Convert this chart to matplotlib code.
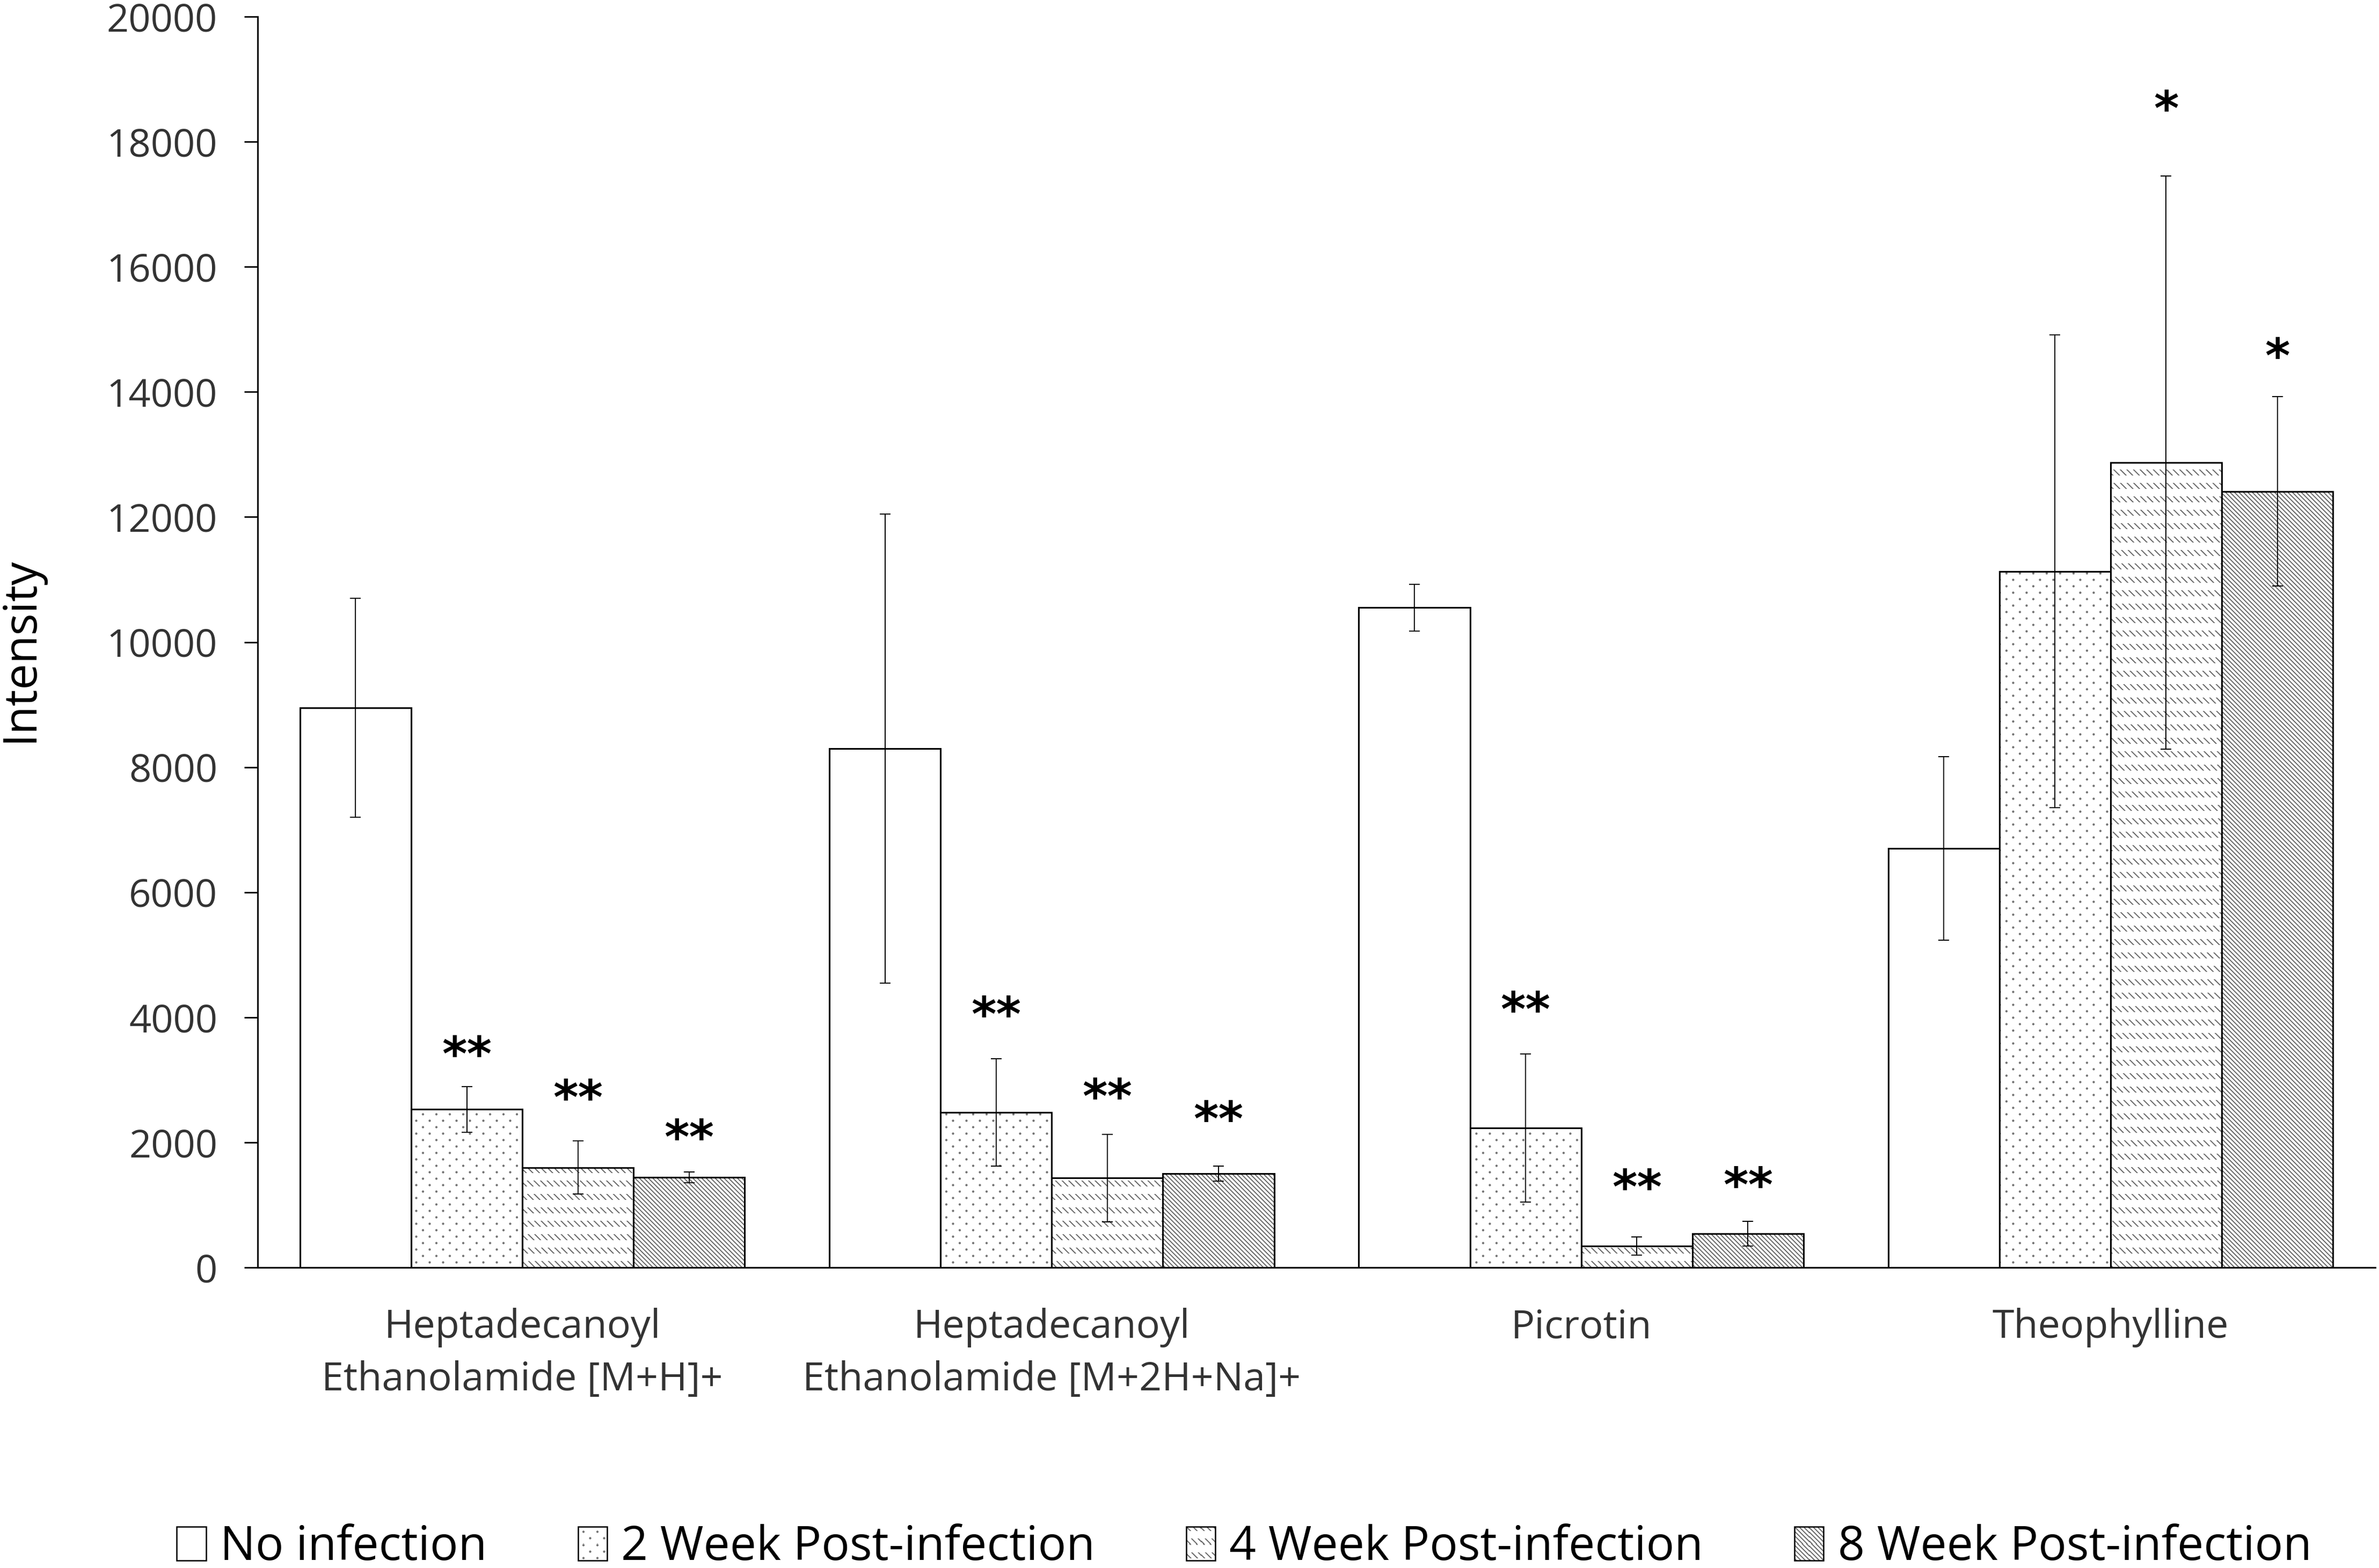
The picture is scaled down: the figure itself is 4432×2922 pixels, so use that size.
import numpy as np
import matplotlib
matplotlib.use('Agg')
from matplotlib import pyplot as plt
from matplotlib.patches import Patch, Rectangle
from matplotlib.legend_handler import HandlerBase
from matplotlib.image import BboxImage
from matplotlib.transforms import Bbox, TransformedBbox

plt.rcParams['font.family'] = ['Open Sans', 'DejaVu Sans']

categories = ['Heptadecanoyl\nEthanolamide [M+H]+',
              'Heptadecanoyl\nEthanolamide [M+2H+Na]+',
              'Picrotin',
              'Theophylline']
series_names = ['No infection', '2 Week Post-infection',
                '4 Week Post-infection', '8 Week Post-infection']

no_inf = [8950, 8300, 10550, 6700]
no_inf_err = [1750, 3750, 375, 1465]
wk2 = [2530, 2480, 2230, 11130]
wk2_err = [365, 860, 1185, 3780]
wk4 = [1600, 1430, 340, 12870]
wk4_err = [425, 700, 145, 4580]
wk8 = [1440, 1500, 540, 12410]
wk8_err = [85, 120, 195, 1515]

# significance marks and the height they sit at
wk2_sig = ['**', '**', '**', '']
wk2_sig_y = [3580, 4210, 4290, 0]
wk4_sig = ['**', '**', '**', '*']
wk4_sig_y = [2880, 2900, 1450, 18690]
wk8_sig = ['**', '**', '**', '*']
wk8_sig_y = [2250, 2540, 1480, 14740]

yticks = [0, 2000, 4000, 6000, 8000, 10000, 12000, 14000, 16000, 18000, 20000]

W, H = 4432, 2922
DPI = 100
fig = plt.figure(figsize=(W / DPI, H / DPI), dpi=DPI)
ax = fig.add_axes([480 / W, 1 - 2362 / H, 3945 / W, 2331 / H])
ax.set_xlim(-0.5, 3.5)
ax.set_ylim(0, 20000)

tick_color = '#333333'
bar_w = 0.21
offsets = [-0.315, -0.105, 0.105, 0.315]
x = np.arange(len(categories))
kinds = [None, 'dots', 'dashes', 'lines']


def texture(kind, c0, r0, w, h):
    c = np.arange(c0, c0 + w)[None, :].astype(float)
    r = np.arange(r0, r0 + h)[:, None].astype(float)
    if kind == 'dots':
        dx1 = (c + 12.5) % 25 - 12.5
        dy1 = (r + 12) % 24 - 12
        dx2 = c % 25 - 12.5
        dy2 = r % 24 - 12
        d = np.minimum(np.hypot(dx1, dy1), np.hypot(dx2, dy2))
        inten = np.clip(2.6 - d, 0, 1)
        v = 1 - 0.55 * inten
    else:
        period = 12.3 if kind == 'dashes' else 8.3
        u = (c - r) % period
        dist = np.minimum(u, period - u)
        inten = np.clip(1.9 - dist, 0, 1)
        if kind == 'dashes':
            inten = inten * ((r % 25) < 11)
        v = 1 - 0.58 * inten
    v = np.broadcast_to(v, (h, w))
    return np.dstack([v, v, v])


def draw_series(vals, errs, k, label):
    xs = x + offsets[k]
    kind = kinds[k]
    bars = ax.bar(xs, vals, bar_w, facecolor='white', edgecolor='black',
                  linewidth=2.2, zorder=3, label=label)
    if kind is not None:
        for b in bars:
            b.set_facecolor('none')
            x0, x1 = b.get_x(), b.get_x() + b.get_width()
            y1 = b.get_height()
            p0 = ax.transData.transform((x0, 0))
            p1 = ax.transData.transform((x1, y1))
            c0, c1 = int(round(p0[0])), int(round(p1[0]))
            r0, r1 = int(round(H - p1[1])), int(round(H - p0[1]))
            if r1 - r0 < 1:
                continue
            img = texture(kind, c0, r0, c1 - c0, r1 - r0)
            e0 = ax.transData.inverted().transform((c0, H - r1))
            e1 = ax.transData.inverted().transform((c1, H - r0))
            ax.imshow(img, extent=(e0[0], e1[0], e0[1], e1[1]),
                      interpolation='nearest', aspect='auto', zorder=2,
                      clip_path=b)
    ax.errorbar(xs, vals, yerr=errs, fmt='none', ecolor='black',
                elinewidth=1.4, capsize=7, capthick=1.4, zorder=4)
    return xs


draw_series(no_inf, no_inf_err, 0, series_names[0])
xs2 = draw_series(wk2, wk2_err, 1, series_names[1])
xs4 = draw_series(wk4, wk4_err, 2, series_names[2])
xs8 = draw_series(wk8, wk8_err, 3, series_names[3])

star_fs = 64
for xs, sig, sig_y in [(xs2, wk2_sig, wk2_sig_y), (xs4, wk4_sig, wk4_sig_y),
                       (xs8, wk8_sig, wk8_sig_y)]:
    for xi, s, yi in zip(xs, sig, sig_y):
        if s:
            ax.annotate(s, (xi, yi), xytext=(0, -0.56 * star_fs),
                        textcoords='offset points', ha='center',
                        va='baseline', fontsize=star_fs, fontweight='bold',
                        family='DejaVu Sans', color='black')

ax.set_xlim(-0.5, 3.5)
ax.set_ylim(0, 20000)
ax.spines['top'].set_visible(False)
ax.spines['right'].set_visible(False)
ax.spines['left'].set_linewidth(2.2)
ax.spines['bottom'].set_linewidth(2.2)
ax.set_yticks(yticks)
ax.set_yticklabels([str(t) for t in yticks])
ax.tick_params(axis='y', direction='out', length=18, width=2, pad=36,
               labelsize=52, labelcolor=tick_color)
ax.set_xticks(x)
ax.set_xticklabels(categories, linespacing=1.42)
ax.tick_params(axis='x', length=0, pad=54, labelsize=53, labelcolor=tick_color)

ax.set_ylabel('Intensity', fontsize=62, color='black')
ax.yaxis.set_label_coords(-0.101, 0.494)


class TextureHandler(HandlerBase):
    def __init__(self, kind):
        super().__init__()
        self.kind = kind

    def create_artists(self, legend, orig_handle, xdescent, ydescent,
                       width, height, fontsize, trans):
        out = []
        if self.kind is not None:
            bb = TransformedBbox(Bbox.from_bounds(-xdescent, -ydescent,
                                                  width, height), trans)
            im = BboxImage(bb, interpolation='nearest')
            wpx = max(int(width * DPI / 72), 2)
            hpx = max(int(height * DPI / 72), 2)
            im.set_data(texture(self.kind, 3, 3, wpx, hpx))
            out.append(im)
        rect = Rectangle((-xdescent, -ydescent), width, height,
                         facecolor='white' if self.kind is None else 'none',
                         edgecolor='black', linewidth=1.8, transform=trans)
        out.append(rect)
        return out


handles = [Patch(label=n) for n in series_names]
fig.legend(handles, series_names, loc='center', bbox_to_anchor=(0.523, 0.013),
           ncol=4, frameon=False, fontsize=63, handlelength=0.62,
           handleheight=0.72, handletextpad=0.3, columnspacing=1.94,
           borderpad=0, borderaxespad=0,
           handler_map={h: TextureHandler(k) for h, k in zip(handles, kinds)})

fig.savefig('out.png', dpi=DPI)
